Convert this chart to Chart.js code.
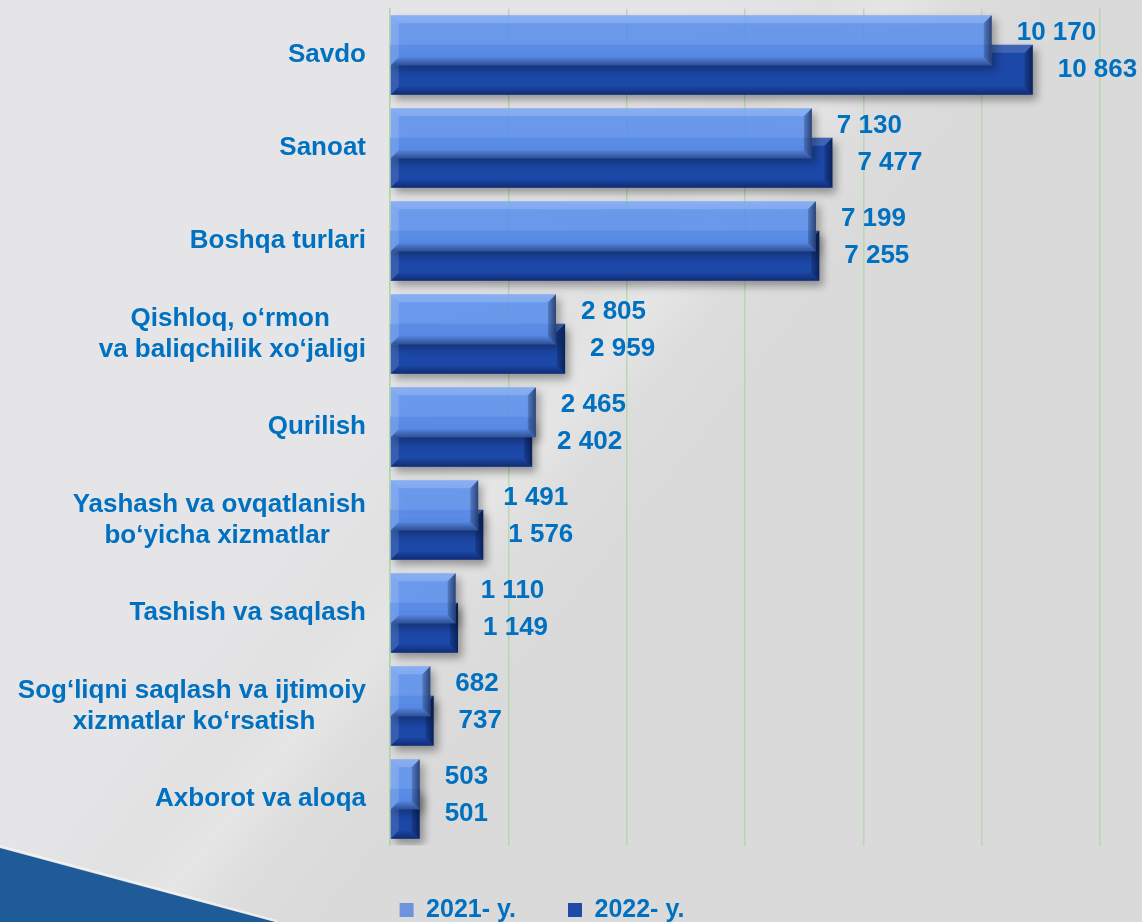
<!DOCTYPE html>
<html>
<head>
<meta charset="utf-8">
<title>Savdo va xizmatlar</title>
<script src="https://cdn.jsdelivr.net/npm/chart.js@4.4.1/dist/chart.umd.min.js"></script>
<style>
  html, body { margin: 0; padding: 0; background: #dedede; }
  #wrap { position: relative; width: 1142px; height: 922px; }
</style>
</head>
<body>
<div id="wrap"><canvas id="bar_chart"></canvas></div>
<script>
// categories (trailing spaces centre the shorter line of a two-line label)
const categories = [
    'Savdo',
    'Sanoat',
    'Boshqa turlari',
    ['Qishloq, o‘rmon     ', 'va baliqchilik xo‘jaligi'],
    'Qurilish',
    ['Yashash va ovqatlanish', 'bo‘yicha xizmatlar     '],
    'Tashish va saqlash',
    ['Sog‘liqni saqlash va ijtimoiy', 'xizmatlar ko‘rsatish       '],
    'Axborot va aloqa'
];
const seriesNames = ['2021- y.', '2022- y.'];
const values2021 = [10170, 7130, 7199, 2805, 2465, 1491, 1110, 682, 503];
const values2022 = [10863, 7477, 7255, 2959, 2402, 1576, 1149, 737, 501];
const xTicks = [0, 2000, 4000, 6000, 8000, 10000, 12000];

const blue = '#0070c0';
const fontFamily = "'Liberation Sans', Arial, sans-serif";
const colors = ['rgba(98, 150, 245, 0.87)', '#1c48a8'];

const fmt = v => String(v).replace(/\B(?=(\d{3})+(?!\d))/g, ' ');

function poly(ctx, pts, fill) {
    ctx.beginPath();
    ctx.moveTo(pts[0][0], pts[0][1]);
    for (let i = 1; i < pts.length; i++) ctx.lineTo(pts[i][0], pts[i][1]);
    ctx.closePath();
    ctx.fillStyle = fill;
    ctx.fill();
}

// page backdrop: grey with a light swoosh and the blue corner
const backdrop = {
    id: 'backdrop',
    afterLayout(chart) {
        // nudge the legend a little to the left, as in the original
        chart.legend.left -= 13;
        chart.legend.right -= 13;
    },
    beforeDraw(chart) {
        const { ctx, width, height } = chart;
        ctx.save();
        const g = ctx.createLinearGradient(430, 330, 650, 505);
        g.addColorStop(0, '#e5e5e7');
        g.addColorStop(1, '#dadada');
        ctx.fillStyle = g;
        ctx.fillRect(0, 0, width, height);
        // faint highlight along the swoosh
        const h = ctx.createLinearGradient(520, 380, 600, 445);
        h.addColorStop(0, 'rgba(255,255,255,0)');
        h.addColorStop(0.5, 'rgba(255,255,255,0.2)');
        h.addColorStop(1, 'rgba(255,255,255,0)');
        ctx.fillStyle = h;
        ctx.fillRect(0, 0, width, height);
        // blue corner
        ctx.beginPath();
        ctx.moveTo(0, 848);
        ctx.lineTo(275, 922);
        ctx.lineTo(0, 922);
        ctx.closePath();
        ctx.fillStyle = '#1f5b98';
        ctx.fill();
        ctx.strokeStyle = 'rgba(255,255,255,0.5)';
        ctx.lineWidth = 2;
        ctx.beginPath();
        ctx.moveTo(0, 846);
        ctx.lineTo(277, 921);
        ctx.stroke();
        ctx.restore();
    }
};

// shadow + bevel on each bar, then value labels
const bevel = {
    id: 'bevel',
    beforeDatasetDraw(chart) {
        const ctx = chart.ctx;
        ctx.save();
        ctx.shadowColor = 'rgba(0, 0, 0, 0.35)';
        ctx.shadowBlur = 8;
        ctx.shadowOffsetX = 4;
        ctx.shadowOffsetY = 5;
    },
    afterDatasetDraw(chart, args) {
        const ctx = chart.ctx;
        ctx.restore();
        ctx.save();
        args.meta.data.forEach(el => {
            const { x, y, base, height } = el.getProps(['x', 'y', 'base', 'height'], true);
            const x0 = Math.min(base, x), x1 = Math.max(base, x);
            const y0 = y - height / 2, y1 = y + height / 2;
            const b = Math.min(8, (x1 - x0) / 2);
            // top and left: light
            poly(ctx, [[x0, y0], [x1, y0], [x1 - b, y0 + b], [x0 + b, y0 + b]], 'rgba(255,255,255,0.16)');
            poly(ctx, [[x0, y0], [x0 + b, y0 + b], [x0 + b, y1 - b], [x0, y1]], 'rgba(255,255,255,0.12)');
            // bottom: fades to dark at the edge
            const gb = ctx.createLinearGradient(0, y1 - b, 0, y1);
            gb.addColorStop(0, 'rgba(0,10,50,0.05)');
            gb.addColorStop(1, 'rgba(0,10,50,0.45)');
            poly(ctx, [[x0, y1], [x1, y1], [x1 - b, y1 - b], [x0 + b, y1 - b]], gb);
            // right: dark
            const gr = ctx.createLinearGradient(x1 - b, 0, x1, 0);
            gr.addColorStop(0, 'rgba(0,10,40,0.2)');
            gr.addColorStop(1, 'rgba(0,10,40,0.6)');
            poly(ctx, [[x1, y0], [x1 - b, y0 + b], [x1 - b, y1 - b], [x1, y1]], gr);
        });
        ctx.restore();
    },
    afterDatasetsDraw(chart) {
        const ctx = chart.ctx;
        ctx.save();
        ctx.font = 'bold 26px ' + fontFamily;
        ctx.fillStyle = blue;
        ctx.textAlign = 'left';
        ctx.textBaseline = 'middle';
        chart.data.datasets.forEach((ds, i) => {
            const meta = chart.getDatasetMeta(i);
            meta.data.forEach((el, j) => {
                const dy = i === 0 ? -7 : 0;
                ctx.fillText(fmt(ds.data[j]), el.x + 25, el.y + dy);
            });
        });
        ctx.restore();
    }
};

const ctx = document.getElementById('bar_chart').getContext('2d');
const bar_chart = new Chart(ctx, {
    type: 'bar',
    data: {
        labels: categories,
        datasets: [
            {
                label: seriesNames[0],
                data: values2021,
                backgroundColor: colors[0],
                borderWidth: 0
            },
            {
                label: seriesNames[1],
                data: values2022,
                backgroundColor: colors[1],
                borderWidth: 0
            }
        ]
    },
    options: {
        indexAxis: 'y',
        responsive: true,
        maintainAspectRatio: false,
        animation: false,
        categoryPercentage: 0.634,
        barPercentage: 1.695,
        layout: { padding: { top: 8.5, right: 42, left: 10, bottom: -10.5 } },
        scales: {
            x: {
                min: xTicks[0],
                max: xTicks[xTicks.length - 1],
                ticks: { display: false, stepSize: xTicks[1] - xTicks[0] },
                grid: { color: 'rgba(170, 212, 160, 0.7)', lineWidth: 1.5, drawTicks: false },
                border: { display: false }
            },
            y: {
                grid: { display: false, drawTicks: false },
                border: { color: 'rgba(170, 212, 160, 0.7)', width: 1.5 },
                ticks: {
                    color: blue,
                    padding: 24,
                    font: { family: fontFamily, size: 26, weight: 'bold', lineHeight: 1.2 }
                },
                afterFit(scale) {
                    scale.width = 380;
                    scale.paddingTop = 0;
                    scale.paddingBottom = 0;
                }
            }
        },
        plugins: {
            legend: {
                position: 'bottom',
                labels: {
                    color: blue,
                    boxWidth: 14,
                    boxHeight: 14,
                    padding: 52,
                    font: { family: fontFamily, size: 25, weight: 'bold' },
                    generateLabels(chart) {
                        return chart.data.datasets.map((ds, i) => ({
                            text: ds.label,
                            fillStyle: i === 0 ? '#6b94dc' : '#1f4aa5',
                            strokeStyle: 'rgba(0,0,0,0)',
                            lineWidth: 0,
                            fontColor: blue,
                            datasetIndex: i
                        }));
                    }
                }
            },
            tooltip: { enabled: false }
        }
    },
    plugins: [backdrop, bevel]
});
</script>
</body>
</html>
